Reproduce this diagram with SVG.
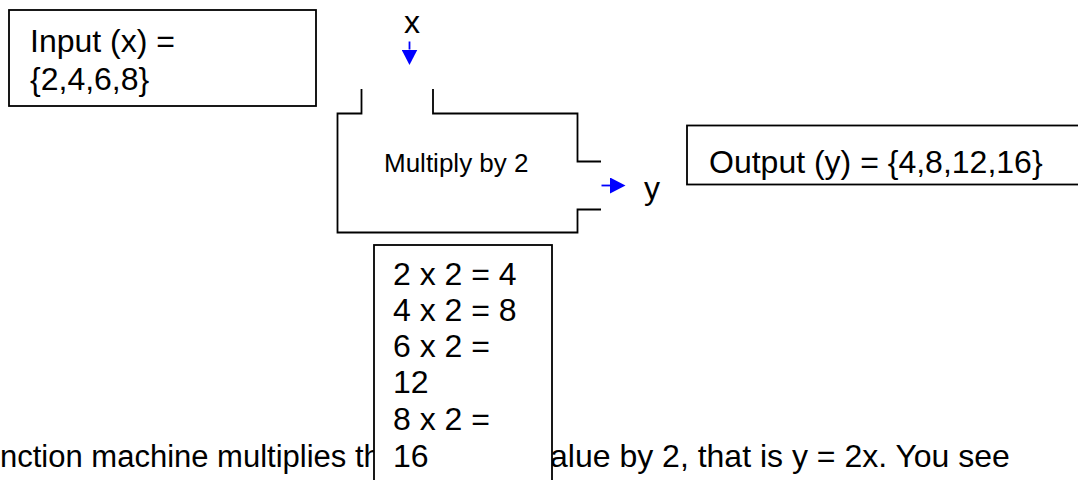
<svg xmlns="http://www.w3.org/2000/svg" width="1078" height="480" viewBox="0 0 1078 480">
<style>
  text { font-family: "Liberation Sans", Arial, sans-serif; fill: #000; }
  .big { font-size: 32px; }
  .calc { font-size: 32px; }
  .mid { font-size: 26px; }
  .box { fill: #fff; stroke: #000; stroke-width: 1.8; }
  .machine { fill: none; stroke: #000; stroke-width: 1.8; }
  .flow { stroke: #0000ff; stroke-width: 1.8; fill: none; }
</style>
<defs>
  <marker id="bluehead" markerUnits="userSpaceOnUse" markerWidth="16" markerHeight="16" refX="0" refY="8" orient="auto" viewBox="0 0 16 16">
    <path d="M0,0 L15.5,8 L0,16 Z" fill="#0000ff"/>
  </marker>
</defs>

<g id="sentence">
  <text x="0" y="467" style="font-size:31px">nction machine multiplies th</text>
  <text x="550" y="467" style="font-size:32px">alue by 2, that is y = 2x. You see</text>
</g>

<g id="input">
  <rect class="box" x="9" y="10" width="307" height="96"/>
  <text class="big" x="30" y="52">Input (x) =</text>
  <text class="big" x="30" y="90">{2,4,6,8}</text>
</g>

<g id="machine">
  <path class="machine" d="M361.5,89 V113.5 H337.5 V232.5 H577.5 V209.5 H601"/>
  <path class="machine" d="M433,89 V113.5 H577.5 V161.5 H601"/>
  <text class="mid" x="384" y="172">Multiply by 2</text>
</g>

<g id="label-x">
  <text class="big" x="412" y="33" text-anchor="middle">x</text>
</g>

<g id="label-y">
  <text class="big" x="644" y="199">y</text>
</g>

<g id="output">
  <rect class="box" x="687" y="125.5" width="400" height="59"/>
  <text class="big" x="709" y="173">Output (y) = {4,8,12,16}</text>
</g>

<g id="calc">
  <rect class="box" x="374" y="245" width="178" height="260"/>
  <text class="calc" x="393" y="285">2 x 2 = 4</text>
  <text class="calc" x="393" y="321">4 x 2 = 8</text>
  <text class="calc" x="393" y="357">6 x 2 =</text>
  <text class="calc" x="393" y="393">12</text>
  <text class="calc" x="393" y="430">8 x 2 =</text>
  <text class="calc" x="393" y="467">16</text>
</g>

<g id="connectors">
  <path class="flow" d="M409.5,41.5 V49.5" marker-end="url(#bluehead)"/>
  <path class="flow" d="M601.5,185.5 H610" marker-end="url(#bluehead)"/>
</g>
</svg>
